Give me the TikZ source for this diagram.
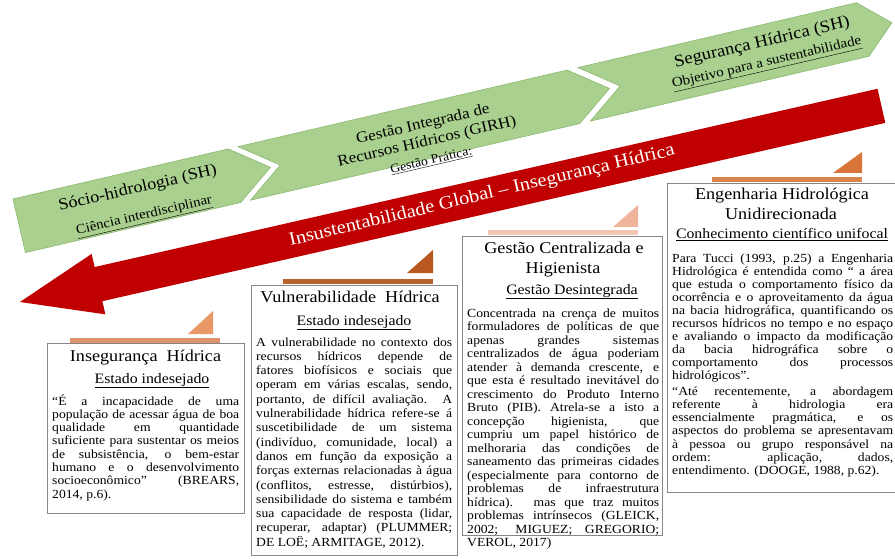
\documentclass[tikz,border=0pt]{standalone}
\usepackage{fontspec}
\newfontfamily\tnr[FakeStretch=1.1]{Liberation Serif}
\definecolor{chevgreen}{RGB}{169,208,142}
\definecolor{chevedge}{RGB}{140,184,112}
\definecolor{arrowred}{RGB}{192,0,0}
\definecolor{boxgray}{RGB}{135,135,135}
\definecolor{barA}{RGB}{222,146,110}
\definecolor{triA}{RGB}{233,152,104}
\definecolor{barB}{RGB}{184,98,48}
\definecolor{triB}{RGB}{184,88,32}
\definecolor{barC}{RGB}{243,198,180}
\definecolor{triC}{RGB}{240,180,156}
\definecolor{barD}{RGB}{217,132,76}
\definecolor{triD}{RGB}{216,116,55}
\newcommand\nl{\linebreak}
\newcommand\bodypar[3]{\parbox[t]{#1}{\tnr\fontsize{12.4}{#2}\selectfont\hyphenpenalty=10000 \exhyphenpenalty=10000 \tolerance=10000 \hbadness=10000 \parindent=0pt #3}}
\tikzset{
  infobox/.style={draw=boxgray, line width=0.8pt, fill=white, anchor=north west, inner sep=0pt},
  chev/.style={fill=chevgreen, draw=chevedge, line width=0.6pt},
  bodytxt/.style={anchor=base west, inner sep=0pt},
  ttl/.style={anchor=base, inner sep=0pt, font=\tnr\fontsize{16.5}{18}\selectfont},
  subttl/.style={anchor=base, inner sep=0pt, font=\tnr\fontsize{14.4}{16}\selectfont},
  chevtxt/.style={rotate=13.1, inner sep=0pt, text=black, anchor=center, align=center},
}
\begin{document}
\begin{tikzpicture}[x=1pt,y=-1pt]
\useasboundingbox (0,0) rectangle (895,559);
\clip (0,0) rectangle (895,559);
\fill[white] (0,0) rectangle (895,559);

% green chevrons
\begin{scope}[shift={(13,199)}, rotate=13.1]
  \filldraw[chev] (0,0) -- (221,0) -- (258,27.5) -- (221,55) -- (0,55) -- cycle;
  \filldraw[chev] (231,0) -- (569,0) -- (606,27.5) -- (569,55) -- (231,55) -- (268,27.5) -- cycle;
  \filldraw[chev] (580,0) -- (866,0) -- (896,27.5) -- (866,55) -- (580,55) -- (617,27.5) -- cycle;
\end{scope}

% red arrow
\begin{scope}[shift={(20,302)}, rotate=12.83]
  \fill[arrowred] (0,0) -- (80.5,-31) -- (80.5,-17.5) -- (883.5,-17.5) -- (883.5,17.5) -- (80.5,17.5) -- (80.5,31) -- cycle;
\end{scope}

% chevron texts
\node[chevtxt, font=\tnr\fontsize{16.5}{18}\selectfont] (sh) at (141,202.5)
  {Sócio-hidrologia (SH)\\[9pt]{\fontsize{13.5}{15}\selectfont\underline{Ciência interdisciplinar}}};
\node[chevtxt, font=\tnr\fontsize{15.5}{17.7}\selectfont] (girh) at (427,142)
  {Gestão Integrada de\\Recursos Hídricos (GIRH)\\[1pt]{\fontsize{12.5}{14}\selectfont\underline{Gestão Prática:}}};
\node[chevtxt, font=\tnr\fontsize{17}{19.5}\selectfont] (seg) at (764.5,53)
  {Segurança Hídrica (SH)\\[0pt]{\fontsize{13.7}{15}\selectfont\underline{Objetivo para a sustentabilidade}}};
\node[rotate=13.3, inner sep=0pt, text=white, font=\tnr\fontsize{18.6}{20}\selectfont] (redtxt) at (482,196) {Insustentabilidade Global – Insegurança Hídrica};

% boxes
\node[infobox, minimum width=197pt, minimum height=170pt] (box1) at (47,343) {};
\node[infobox, minimum width=206pt, minimum height=270pt] (box2) at (251,285) {};
\node[infobox, minimum width=200pt, minimum height=299pt] (box3) at (462,236) {};
\node[infobox, minimum width=240pt, minimum height=309pt] (box4) at (667,183) {};

% orange tabs
\fill[barA] (70,338) rectangle (220,342.5);
\fill[triA] (188,334) -- (213,334) -- (213,311) -- cycle;
\fill[barB] (283,279) rectangle (433,284);
\fill[triB] (407,273) -- (433,273) -- (433,250) -- cycle;
\fill[barC] (488,230) rectangle (638,235);
\fill[triC] (613,227) -- (638,227) -- (638,205) -- cycle;
\fill[barD] (712,177) rectangle (862,182);
\fill[triD] (833,173) -- (862,173) -- (862,152) -- cycle;

% box 1
\node[ttl] (t1) at (145.5,361) {Insegurança~ Hídrica};
\node[subttl] (u1) at (152,383) {\underline{Estado indesejado}};
\node[bodytxt] (p1) at (52,405) {\bodypar{187pt}{13.3pt}{“É a incapacidade de uma \nl
população de acessar água de boa \nl
qualidade em quantidade \nl
suficiente para sustentar os meios \nl
de subsistência, o bem-estar \nl
humano e o desenvolvimento \nl
socioeconômico” (BREARS, \nl
2014, p.6).}};

% box 2
\node[ttl] (t2) at (350,302) {Vulnerabilidade~ Hídrica};
\node[subttl] (u2) at (354,325) {\underline{Estado indesejado}};
\node[bodytxt] (p2) at (256,346) {\bodypar{196pt}{14.3pt}{A vulnerabilidade no contexto dos \nl
recursos hídricos depende de \nl
fatores biofísicos e sociais que \nl
operam em várias escalas, sendo, \nl
portanto, de difícil avaliação. A \nl
vulnerabilidade hídrica refere-se á \nl
suscetibilidade de um sistema \nl
(indivíduo, comunidade, local) a \nl
danos em função da exposição a \nl
forças externas relacionadas à água \nl
(conflitos, estresse, distúrbios), \nl
sensibilidade do sistema e também \nl
sua capacidade de resposta (lidar, \nl
recuperar, adaptar) (PLUMMER; \nl
DE LOË; ARMITAGE, 2012).}};

% box 3
\node[ttl] (t3a) at (564,254) {Gestão Centralizada e};
\node[ttl] (t3b) at (563,273) {Higienista};
\node[subttl] (u3) at (572,294) {\underline{Gestão Desintegrada}};
\node[bodytxt] (p3) at (467,317) {\bodypar{192pt}{13.5pt}{Concentrada na crença de muitos \nl
formuladores de políticas de que \nl
apenas grandes sistemas \nl
centralizados de água poderiam \nl
atender à demanda crescente, e \nl
que esta é resultado inevitável do \nl
crescimento do Produto Interno \nl
Bruto (PIB). Atrela-se a isto a \nl
concepção higienista, que \nl
cumpriu um papel histórico de \nl
melhoraria das condições de \nl
saneamento das primeiras cidades \nl
(especialmente para contorno de \nl
problemas de infraestrutura \nl
hídrica). mas que traz muitos \nl
problemas intrínsecos (GLEICK, \nl
2002; MIGUEZ; GREGORIO; \nl
VEROL, 2017)}};

% box 4
\node[ttl] (t4a) at (782,200) {Engenharia Hidrológica};
\node[ttl] (t4b) at (781,219) {Unidirecionada};
\node[subttl] (u4) at (782,239) {\underline{Conhecimento científico unifocal}};
\node[bodytxt] (p4a) at (672,262) {\bodypar{221pt}{13.1pt}{Para Tucci (1993, p.25) a Engenharia \nl
Hidrológica é entendida como “ a área \nl
que estuda o comportamento físico da \nl
ocorrência e o aproveitamento da água \nl
na bacia hidrográfica, quantificando os \nl
recursos hídricos no tempo e no espaço \nl
e avaliando o impacto da modificação \nl
da bacia hidrográfica sobre o \nl
comportamento dos processos \nl
hidrológicos”.}};
\node[bodytxt] (p4b) at (672,395) {\bodypar{221pt}{13.3pt}{“Até recentemente, a abordagem \nl
referente à hidrologia era \nl
essencialmente pragmática, e os \nl
aspectos do problema se apresentavam \nl
à pessoa ou grupo responsável na \nl
ordem: aplicação, dados, \nl
entendimento. (DOOGE, 1988, p.62).}};
\end{tikzpicture}
\end{document}
